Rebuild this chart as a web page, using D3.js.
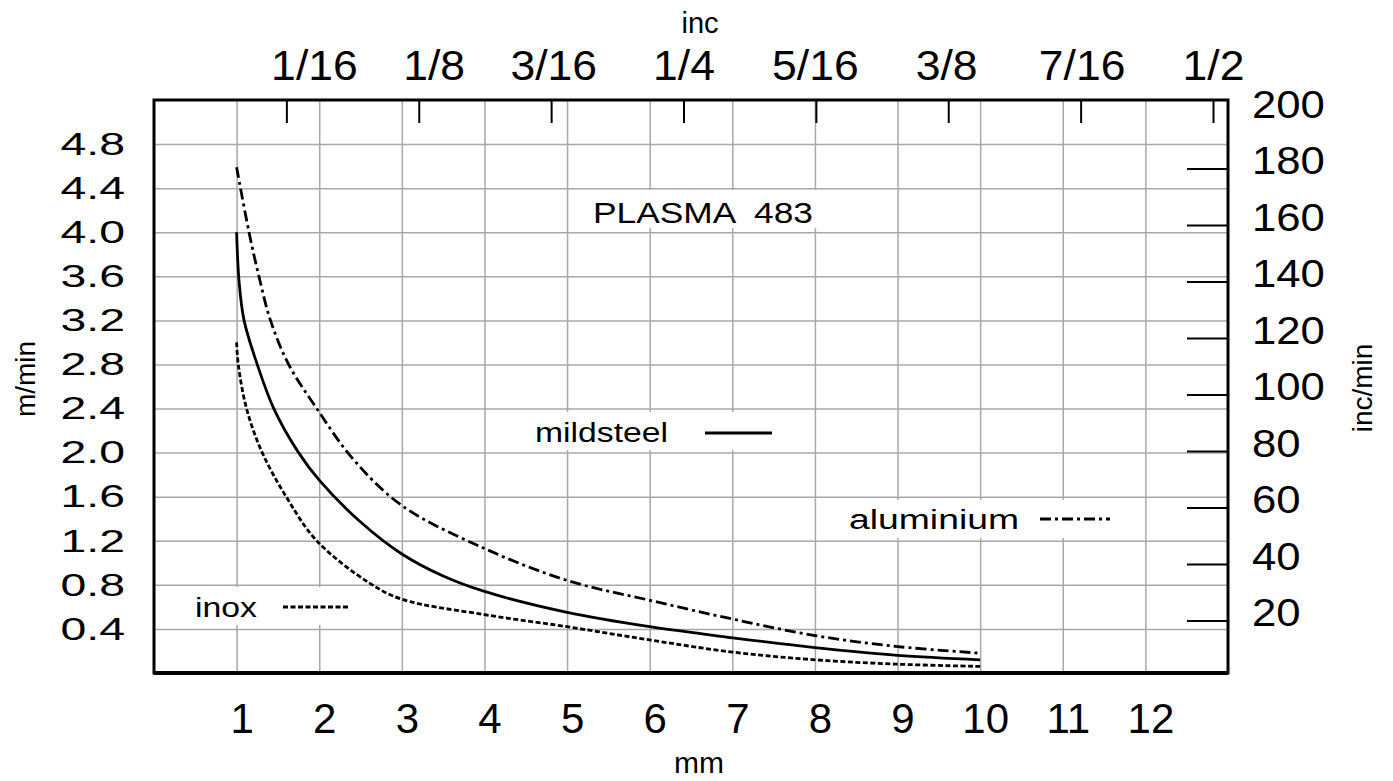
<!DOCTYPE html>
<html>
<head>
<meta charset="utf-8">
<script src="https://cdn.jsdelivr.net/npm/d3@7/dist/d3.min.js"></script>
<style>
  body { margin: 0; background: #fff; }
  text { font-family: "Liberation Sans", Arial, sans-serif; fill: #000; white-space: pre; }
</style>
</head>
<body>
<div id="chart"></div>
<script>
// axis ticks
const mmTicks = [1, 2, 3, 4, 5, 6, 7, 8, 9, 10, 11, 12];
const mminTicks = [0.4, 0.8, 1.2, 1.6, 2.0, 2.4, 2.8, 3.2, 3.6, 4.0, 4.4, 4.8];
const incTicks = [1/16, 1/8, 3/16, 1/4, 5/16, 3/8, 7/16, 1/2];
const incLabels = ["1/16", "1/8", "3/16", "1/4", "5/16", "3/8", "7/16", "1/2"];
const incMinTicks = [20, 40, 60, 80, 100, 120, 140, 160, 180, 200];

// cutting speed (m/min) against thickness (mm)
const mildX = [1, 1.03, 1.09, 1.25, 1.45, 1.75, 2, 2.5, 3, 3.5, 4, 5, 6, 7, 8, 9, 10];
const mildY = [4.0, 3.55, 3.2, 2.8, 2.4, 2.0, 1.75, 1.37, 1.08, 0.88, 0.74, 0.55, 0.42, 0.32, 0.23, 0.16, 0.12];
const aluX = [1, 1.15, 1.27, 1.41, 1.63, 1.97, 2.4, 3, 4, 5, 6, 7, 8, 9, 10];
const aluY = [4.59, 4.0, 3.6, 3.2, 2.8, 2.4, 1.95, 1.52, 1.13, 0.84, 0.66, 0.49, 0.34, 0.24, 0.18];
const inoxX = [1, 1.02, 1.12, 1.31, 1.6, 1.97, 2.6, 3, 4, 5, 6, 7, 8, 9, 10];
const inoxY = [3.0, 2.8, 2.4, 2.0, 1.6, 1.2, 0.82, 0.67, 0.53, 0.42, 0.30, 0.19, 0.12, 0.08, 0.06];

const W = 1393, H = 781;
const L = 154, R = 1228, T = 100, B = 673;

const svg = d3.select("#chart").append("svg")
    .attr("width", W)
    .attr("height", H);

const x = d3.scaleLinear().domain([0, 13]).range([L, R]);
const xIn = d3.scaleLinear().domain([0, 0.5]).range([L, 1213]);
const y = d3.scaleLinear().domain([0, 5.2]).range([B, T]);
const yIn = d3.scaleLinear().domain([0, 200]).range([677, 112]);

// grid
const grid = svg.append("g");
grid.append("g")
    .attr("transform", `translate(0,${B})`)
    .call(d3.axisBottom(x).tickValues(mmTicks).tickSize(-(B - T)).tickFormat(""))
    .call(g => g.select(".domain").remove());
grid.append("g")
    .attr("transform", `translate(${L},0)`)
    .call(d3.axisLeft(y).tickValues(mminTicks).tickSize(-(R - L)).tickFormat(""))
    .call(g => g.select(".domain").remove());
grid.selectAll("line").attr("stroke", "#a8a8a8").attr("stroke-width", 1.5);

// labels with white backing
function label(txt, tx, ty, size, len, box) {
  svg.append("rect")
      .attr("x", box[0]).attr("y", box[1])
      .attr("width", box[2] - box[0]).attr("height", box[3] - box[1])
      .attr("fill", "#fff");
  svg.append("text")
      .attr("x", tx).attr("y", ty)
      .attr("font-size", size)
      .attr("textLength", len)
      .attr("lengthAdjust", "spacingAndGlyphs")
      .text(txt);
}

label("PLASMA  483", 593, 223, 29, 220, [588, 190, 818, 228]);
label("mildsteel", 535, 442, 27, 133, [528, 412, 780, 450]);
label("aluminium", 849, 529, 27, 170, [840, 500, 1118, 538]);
label("inox", 195, 617, 27, 62, [186, 587, 356, 625]);

// series
const series = [
  {xs: mildX, ys: mildY, dash: null, key: [705, 772, 433]},
  {xs: aluX, ys: aluY, dash: "11,4,3,4", key: [1040, 1110, 519]},
  {xs: inoxX, ys: inoxY, dash: "5,2.5", key: [283, 348, 607]}
];

const line = d3.line()
    .x(d => x(d[0]))
    .y(d => y(d[1]))
    .curve(d3.curveCatmullRom.alpha(0.5));

series.forEach(s => {
  svg.append("path")
      .datum(s.xs.map((v, i) => [v, s.ys[i]]))
      .attr("d", line)
      .attr("fill", "none")
      .attr("stroke", "#000")
      .attr("stroke-width", 2.8)
      .attr("stroke-dasharray", s.dash);
  svg.append("line")
      .attr("x1", s.key[0]).attr("x2", s.key[1])
      .attr("y1", s.key[2]).attr("y2", s.key[2])
      .attr("stroke", "#000")
      .attr("stroke-width", 2.8)
      .attr("stroke-dasharray", s.dash);
});

// frame
svg.append("rect")
    .attr("x", L).attr("y", T)
    .attr("width", R - L).attr("height", B - T)
    .attr("fill", "none")
    .attr("stroke", "#000")
    .attr("stroke-width", 3);
svg.append("line")
    .attr("x1", L).attr("x2", R)
    .attr("y1", B).attr("y2", B)
    .attr("stroke", "#000")
    .attr("stroke-width", 4);

// bottom axis (mm)
svg.append("g")
    .attr("transform", `translate(0,${B})`)
    .call(d3.axisBottom(x).tickValues(mmTicks).tickSize(0).tickPadding(30))
    .call(g => g.select(".domain").remove())
    .selectAll("text")
    .attr("font-size", 42)
    .attr("dx", 5);

// left axis (m/min)
svg.append("g")
    .attr("transform", `translate(${L},0)`)
    .call(d3.axisLeft(y).tickValues(mminTicks).tickFormat(d3.format(".1f")).tickSize(0))
    .call(g => g.select(".domain").remove())
    .selectAll("text")
    .attr("font-size", 32)
    .attr("x", -20)
    .attr("transform", "scale(1.45,1)");

// top axis (inch)
const nudge = [26, 14, 2, 0, -1, -2, 1, 0];
svg.append("g")
    .attr("transform", `translate(0,${T})`)
    .call(d3.axisTop(xIn).tickValues(incTicks).tickFormat((d, i) => incLabels[i])
        .tickSizeInner(-23).tickSizeOuter(0).tickPadding(20))
    .call(g => g.select(".domain").remove())
    .call(g => g.selectAll("line").attr("stroke", "#000").attr("stroke-width", 2))
    .selectAll("text")
    .attr("font-size", 42)
    .attr("dx", (d, i) => nudge[i])
    .attr("transform", "scale(1.06,1)");

// right axis (inch/min)
svg.append("g")
    .attr("transform", `translate(${R},0)`)
    .call(d3.axisRight(yIn).tickValues(incMinTicks).tickSizeInner(-41).tickSizeOuter(0))
    .call(g => g.select(".domain").remove())
    .call(g => g.selectAll("line").attr("stroke", "#000").attr("stroke-width", 2))
    .call(g => g.selectAll(".tick").filter(d => d === 200).select("line").remove())
    .selectAll("text")
    .attr("font-size", 39)
    .attr("x", 21.4)
    .attr("y", -7)
    .attr("transform", "scale(1.12,1)");

svg.selectAll(".tick text").attr("fill", "#000");

// axis titles
svg.append("text")
    .attr("x", 700).attr("y", 33)
    .attr("text-anchor", "middle")
    .attr("font-size", 29)
    .text("inc");
svg.append("text")
    .attr("x", 699).attr("y", 773)
    .attr("text-anchor", "middle")
    .attr("font-size", 30)
    .text("mm");
svg.append("text")
    .attr("transform", "translate(35,379) rotate(-90)")
    .attr("text-anchor", "middle")
    .attr("font-size", 28)
    .text("m/min");
svg.append("text")
    .attr("transform", "translate(1372,388) rotate(-90)")
    .attr("text-anchor", "middle")
    .attr("font-size", 28)
    .text("inc/min");
</script>
</body>
</html>
